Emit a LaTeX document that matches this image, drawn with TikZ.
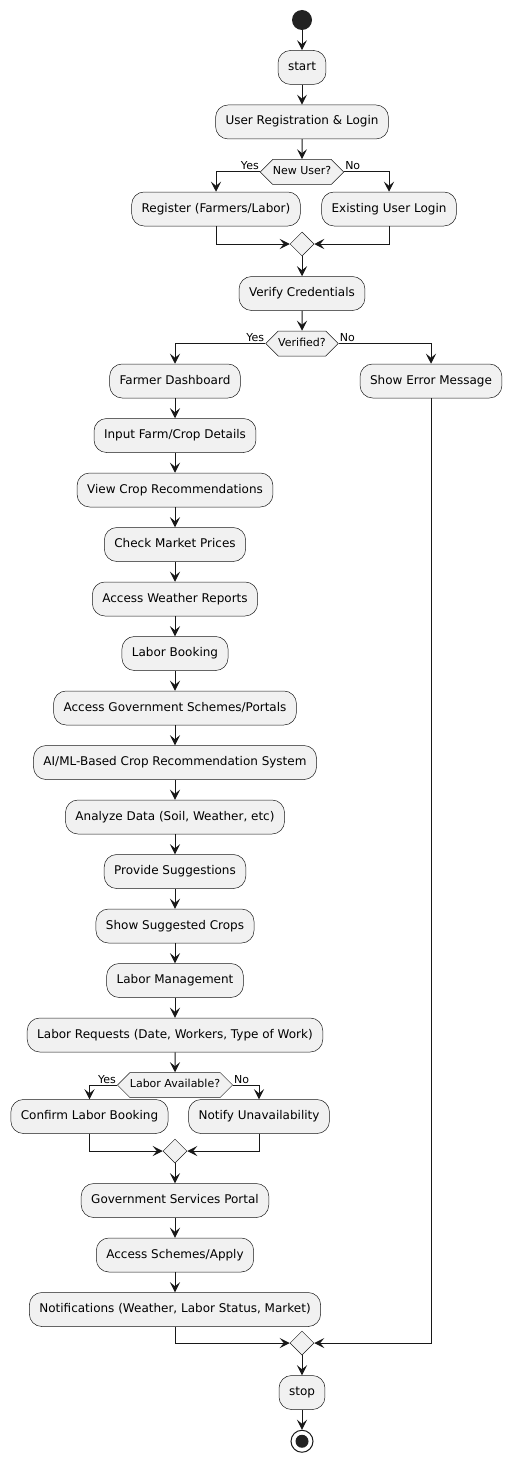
\documentclass[tikz,border=0pt]{standalone}
\usepackage{fontspec}
\setmainfont{DejaVu Sans}
\usetikzlibrary{shapes.geometric,shapes.symbols,arrows.meta,positioning}
\definecolor{actfill}{HTML}{F1F1F1}
\definecolor{actline}{HTML}{181818}
\definecolor{dotfill}{HTML}{222222}

\begin{document}
\begin{tikzpicture}[
  x=1pt,
  y=-1pt,
  node distance=20pt,
  act/.style={
    rectangle,
    rounded corners=12.5pt,
    draw=actline,
    line width=0.5pt,
    fill=actfill,
    text=black,
    minimum height=34pt,
    inner xsep=10pt,
    font=\fontsize{12pt}{14pt}\selectfont,
    text height=9pt,
    text depth=3pt
  },
  decision/.style={
    signal,
    signal to=west and east,
    signal pointer angle=90,
    draw=actline,
    line width=0.5pt,
    fill=actfill,
    text=black,
    minimum height=25pt,
    inner xsep=0pt,
    inner ysep=0pt,
    font=\fontsize{11pt}{13pt}\selectfont,
    text height=8pt,
    text depth=2.5pt
  },
  merge/.style={
    diamond,
    draw=actline,
    line width=0.5pt,
    fill=actfill,
    minimum width=24pt,
    minimum height=24pt,
    inner sep=0pt
  },
  initial/.style={
    circle,
    fill=dotfill,
    minimum size=20pt,
    inner sep=0pt
  },
  final/.style={
    circle,
    draw=actline,
    line width=1pt,
    fill=white,
    minimum size=22pt,
    inner sep=0pt,
    path picture={\fill[dotfill] (path picture bounding box.center) circle (6.5pt);}
  },
  lbl/.style={
    font=\fontsize{11pt}{13pt}\selectfont,
    inner sep=0pt
  },
  arrow/.style={
    -{Stealth[length=10pt,width=10pt,inset=4pt]},
    line width=1pt,
    draw=actline
  }
]
\useasboundingbox (0,0) rectangle (511,1461);

% Start and login
\node[initial] (init) at (302,20) {};
\node[act, below=of init] (start) {start};
\node[act, below=of start] (login) {User Registration \& Login};
\node[decision, below=of login] (newuser) {New User?};
\node[lbl, anchor=base east] (yes1) at ([xshift=-1pt,yshift=2pt]newuser.west) {Yes};
\node[lbl, anchor=base west] (no1) at ([xshift=1pt,yshift=2pt]newuser.east) {No};

% New or existing user
\node[act] (register) at (216,209) {Register (Farmers/Labor)};
\node[act] (existing) at (389,209) {Existing User Login};
\node[merge] (join1) at (302,244) {};

% Verification
\node[act, below=of join1] (verify) {Verify Credentials};
\node[decision, below=of verify] (verified) {Verified?};
\node[lbl, anchor=base east] (yes2) at ([xshift=-1pt,yshift=2pt]verified.west) {Yes};
\node[lbl, anchor=base west] (no2) at ([xshift=1pt,yshift=2pt]verified.east) {No};
\node[act] (dashboard) at (175,381) {Farmer Dashboard};
\node[act] (error) at (431,381) {Show Error Message};

% Farmer steps
\node[act, below=of dashboard] (farm) {Input Farm/Crop Details};
\node[act, below=of farm] (croprec) {View Crop Recommendations};
\node[act, below=of croprec] (market) {Check Market Prices};
\node[act, below=of market] (weather) {Access Weather Reports};
\node[act, below=of weather] (booking) {Labor Booking};
\node[act, below=of booking] (schemesgov) {Access Government Schemes/Portals};
\node[act, below=of schemesgov] (aiml) {AI/ML-Based Crop Recommendation System};
\node[act, below=of aiml] (analyze) {Analyze Data (Soil, Weather, etc)};
\node[act, below=of analyze] (suggest) {Provide Suggestions};
\node[act, below=of suggest] (crops) {Show Suggested Crops};
\node[act, below=of crops] (labormgmt) {Labor Management};
\node[act, below=of labormgmt] (requests) {Labor Requests (Date, Workers, Type of Work)};

% Labor availability
\node[decision, below=of requests] (available) {Labor Available?};
\node[lbl, anchor=base east] (yes3) at ([xshift=-1pt,yshift=2pt]available.west) {Yes};
\node[lbl, anchor=base west] (no3) at ([xshift=1pt,yshift=2pt]available.east) {No};
\node[act] (confirm) at (89.5,1116.5) {Confirm Labor Booking};
\node[act] (unavail) at (259,1116.5) {Notify Unavailability};
\node[merge] (join2) at (175,1151) {};

% Government services
\node[act, below=of join2] (govportal) {Government Services Portal};
\node[act, below=of govportal] (apply) {Access Schemes/Apply};
\node[act, below=of apply] (notify) {Notifications (Weather, Labor Status, Market)};

% Stop
\node[merge] (join3) at (302,1343) {};
\node[act, below=of join3] (stop) {stop};
\node[final, below=of stop] (end) {};

% Arrows to login decision
\draw[arrow] (init) -- (start);
\draw[arrow] (start) -- (login);
\draw[arrow] (login) -- (newuser);
\draw[arrow] (newuser.west) -| (register.north);
\draw[arrow] (newuser.east) -| (existing.north);
\draw[arrow] (register.south) |- (join1.west);
\draw[arrow] (existing.south) |- (join1.east);
\draw[arrow] (join1) -- (verify);
\draw[arrow] (verify) -- (verified);
\draw[arrow] (verified.west) -| (dashboard.north);
\draw[arrow] (verified.east) -| (error.north);

% Arrows down the farmer steps
\draw[arrow] (dashboard) -- (farm);
\draw[arrow] (farm) -- (croprec);
\draw[arrow] (croprec) -- (market);
\draw[arrow] (market) -- (weather);
\draw[arrow] (weather) -- (booking);
\draw[arrow] (booking) -- (schemesgov);
\draw[arrow] (schemesgov) -- (aiml);
\draw[arrow] (aiml) -- (analyze);
\draw[arrow] (analyze) -- (suggest);
\draw[arrow] (suggest) -- (crops);
\draw[arrow] (crops) -- (labormgmt);
\draw[arrow] (labormgmt) -- (requests);
\draw[arrow] (requests) -- (available);

% Arrows round labor decision
\draw[arrow] (available.west) -| (confirm.north);
\draw[arrow] (available.east) -| (unavail.north);
\draw[arrow] (confirm.south) |- (join2.west);
\draw[arrow] (unavail.south) |- (join2.east);
\draw[arrow] (join2) -- (govportal);
\draw[arrow] (govportal) -- (apply);
\draw[arrow] (apply) -- (notify);

% Arrows to stop
\draw[arrow] (notify.south) |- (join3.west);
\draw[arrow] (error.south) |- (join3.east);
\draw[arrow] (join3) -- (stop);
\draw[arrow] (stop) -- (end);

\end{tikzpicture}
\end{document}
